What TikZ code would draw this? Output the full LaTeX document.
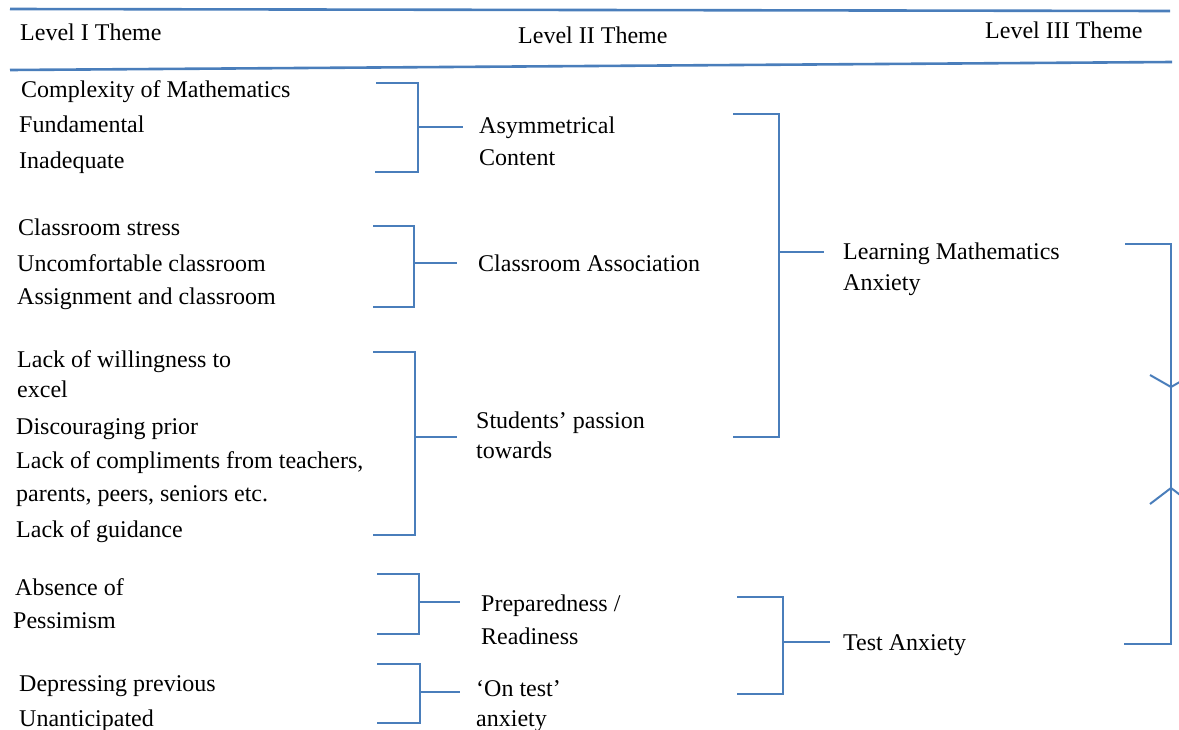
\documentclass[tikz,border=0pt]{standalone}
\usepackage{fontspec}
\setmainfont{Liberation Serif}
\definecolor{lineblue}{HTML}{4A7EBB}
\tikzset{
  rulestyle/.style={draw=lineblue, line width=2.6pt},
  brk/.style={draw=lineblue, line width=2pt},
  lbl/.style={anchor=base west, inner sep=0pt, font=\fontsize{24}{30}\selectfont},
}
\begin{document}
\begin{tikzpicture}[x=1pt,y=-1pt]
\useasboundingbox (0,0) rectangle (1179,729);
\clip (0,0) rectangle (1179,729);

% header rules
\coordinate (r1a) at (10,9);   \coordinate (r1b) at (1170,11);
\coordinate (r2a) at (10,70);  \coordinate (r2b) at (1172,62);
\draw[rulestyle] (r1a) -- (r1b);
\draw[rulestyle] (r2a) -- (r2b);

% headers
\node[lbl] (h1) at (20,40) {Level I Theme};
\node[lbl] (h2) at (518,43) {Level II Theme};
\node[lbl] (h3) at (985,38) {Level III Theme};

% level I items
\node[lbl] (a1) at (21,97)  {Complexity of Mathematics};
\node[lbl] (a2) at (19,132) {Fundamental};
\node[lbl] (a3) at (19,168) {Inadequate};
\node[lbl] (b1) at (18,235) {Classroom stress};
\node[lbl] (b2) at (17,271) {Uncomfortable classroom};
\node[lbl] (b3) at (17,304) {Assignment and classroom};
\node[lbl] (c1) at (17,367) {Lack of willingness to};
\node[lbl] (c2) at (17,397) {excel};
\node[lbl] (c3) at (16,434) {Discouraging prior};
\node[lbl] (c4) at (16,468) {Lack of compliments from teachers,};
\node[lbl] (c5) at (16,501) {parents, peers, seniors etc.};
\node[lbl] (c6) at (16,537) {Lack of guidance};
\node[lbl] (d1) at (15,595) {Absence of};
\node[lbl] (d2) at (13,628) {Pessimism};
\node[lbl] (e1) at (19,691) {Depressing previous};
\node[lbl] (e2) at (19,726) {Unanticipated};

% level II labels
\node[lbl] (A1) at (479,133) {Asymmetrical};
\node[lbl] (A2) at (479,165) {Content};
\node[lbl] (B)  at (478,271) {Classroom Association};
\node[lbl] (C1) at (476,428) {Students’ passion};
\node[lbl] (C2) at (476,458) {towards};
\node[lbl] (D1) at (481,611) {Preparedness /};
\node[lbl] (D2) at (481,644) {Readiness};
\node[lbl] (E1) at (476,696) {‘On test’};
\node[lbl] (E2) at (476,726) {anxiety};

% level III labels
\node[lbl] (L1) at (843,259) {Learning Mathematics};
\node[lbl] (L2) at (843,290) {Anxiety};
\node[lbl] (T)  at (843,650) {Test Anxiety};

% brackets level I -> II
\draw[brk] (376,83) -- (418,83) -- (418,172) -- (375,172);
\draw[brk] (418,127) -- (463,127);
\draw[brk] (373,226) -- (414,226) -- (414,307) -- (373,307);
\draw[brk] (414,263) -- (457,263);
\draw[brk] (373,352) -- (415,352) -- (415,535) -- (373,535);
\draw[brk] (415,437) -- (457,437);
\draw[brk] (377,574) -- (419,574) -- (419,634) -- (377,634);
\draw[brk] (419,602) -- (460,602);
\draw[brk] (377,664) -- (420,664) -- (420,723) -- (377,723);
\draw[brk] (420,692) -- (460,692);

% brackets level II -> III
\draw[brk] (733,114) -- (779,114) -- (779,437) -- (733,437);
\draw[brk] (779,252) -- (824,252);
\draw[brk] (737,597) -- (783,597) -- (783,694) -- (737,694);
\draw[brk] (783,642) -- (830,642);

% right bracket
\coordinate (up) at (1171,387);
\coordinate (dn) at (1171,488);
\draw[brk] (1125,244) -- (1171,244) -- (1171,644) -- (1124,644);
\draw[brk] (1150,375) -- (up) -- (1192,375);
\draw[brk] (1150,504) -- (dn) -- (1192,504);
\end{tikzpicture}
\end{document}
